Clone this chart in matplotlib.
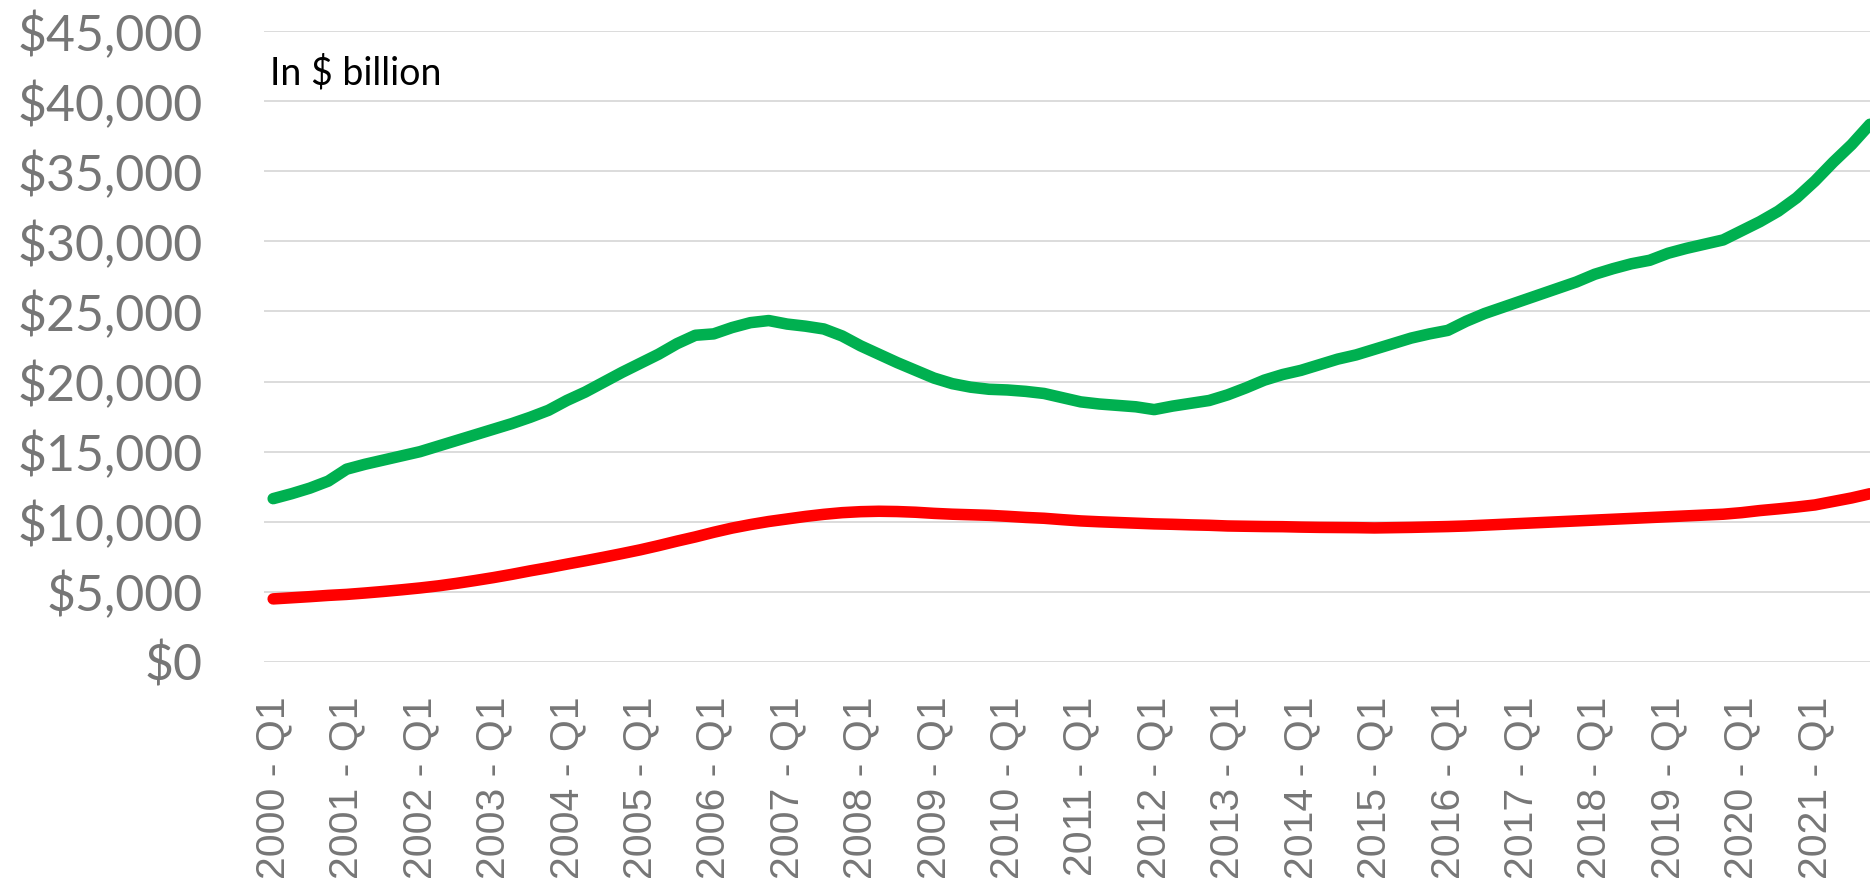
import matplotlib
matplotlib.use("Agg")
import matplotlib.pyplot as plt

# ---- data (in $ billion) ----
years = list(range(2000, 2022))
quarters = [f"{y} - Q{q}" for y in years for q in range(1, 5)]

real_estate = [
    11650, 12000, 12400, 12900,   # 2000
    13750, 14100, 14400, 14700,   # 2001
    15000, 15400, 15800, 16200,   # 2002
    16600, 17000, 17450, 17950,   # 2003
    18650, 19250, 19950, 20650,   # 2004
    21300, 21950, 22700, 23300,   # 2005
    23400, 23850, 24200, 24350,   # 2006
    24100, 23950, 23750, 23250,   # 2007
    22550, 21950, 21350, 20800,   # 2008
    20250, 19850, 19600, 19450,   # 2009
    19400, 19300, 19150, 18850,   # 2010
    18550, 18400, 18300, 18200,   # 2011
    18000, 18250, 18450, 18650,   # 2012
    19050, 19550, 20100, 20500,   # 2013
    20800, 21200, 21600, 21900,   # 2014
    22300, 22700, 23100, 23400,   # 2015
    23650, 24300, 24850, 25300,   # 2016
    25750, 26200, 26650, 27100,   # 2017
    27650, 28050, 28400, 28650,   # 2018
    29150, 29500, 29800, 30100,   # 2019
    30750, 31400, 32150, 33100,   # 2020
    34300, 35650, 36900, 38350,   # 2021
]

mortgages = [
    4500, 4580, 4660, 4750,       # 2000
    4820, 4920, 5030, 5150,       # 2001
    5280, 5430, 5610, 5810,       # 2002
    6020, 6250, 6500, 6730,       # 2003
    6980, 7220, 7470, 7730,       # 2004
    8000, 8300, 8620, 8920,       # 2005
    9250, 9550, 9800, 10020,      # 2006
    10200, 10380, 10530, 10650,   # 2007
    10720, 10750, 10730, 10680,   # 2008
    10600, 10540, 10500, 10460,   # 2009
    10390, 10310, 10250, 10150,   # 2010
    10060, 10000, 9950, 9900,     # 2011
    9850, 9820, 9780, 9750,       # 2012
    9700, 9680, 9660, 9650,       # 2013
    9620, 9600, 9590, 9580,       # 2014
    9560, 9580, 9600, 9630,       # 2015
    9660, 9700, 9760, 9820,       # 2016
    9880, 9940, 10000, 10060,     # 2017
    10120, 10180, 10240, 10300,   # 2018
    10360, 10420, 10480, 10540,   # 2019
    10650, 10800, 10920, 11050,   # 2020
    11200, 11450, 11700, 12000,   # 2021
]

y_ticks = list(range(0, 45001, 5000))
y_tick_labels = [f"${v:,}" for v in y_ticks]

# ---- figure ----
W, H = 1870, 884
fig = plt.figure(figsize=(W / 100, H / 100), dpi=100)
fig.patch.set_facecolor("white")

ax_left, ax_right = 264, 1870
ax_top, ax_bottom = 31, 662
ax = fig.add_axes([ax_left / W, 1 - ax_bottom / H,
                   (ax_right - ax_left) / W, (ax_bottom - ax_top) / H])
ax.set_facecolor("none")

x = list(range(len(quarters)))
ax.plot(x, real_estate, color="#00B050", lw=8.3, solid_capstyle="round",
        solid_joinstyle="round", zorder=3)
ax.plot(x, mortgages, color="#FF0000", lw=8.3, solid_capstyle="round",
        solid_joinstyle="round", zorder=3)

ax.set_ylim(0, 45000)
ax.set_xlim(-0.5, 87.0)

ax.set_yticks(y_ticks)
ax.set_yticklabels(y_tick_labels, fontsize=36, color="#767676",
                   fontfamily="Lato")
ax.set_xticks(x[::4])
ax.set_xticklabels(quarters[::4], rotation=90, fontsize=29.5,
                   color="#767676", fontfamily="Liberation Sans")
ax.tick_params(axis="y", length=0, pad=44)
ax.tick_params(axis="x", length=0, pad=25)

ax.grid(axis="y", color="#D9D9D9", lw=1.3, zorder=0)
ax.set_axisbelow(True)
for s in ax.spines.values():
    s.set_visible(False)

ax.text(0.004, 0.933, "In $ billion", transform=ax.transAxes,
        fontsize=27, fontfamily="Lato", color="black", va="center", ha="left")

fig.savefig("out.png", dpi=100)
